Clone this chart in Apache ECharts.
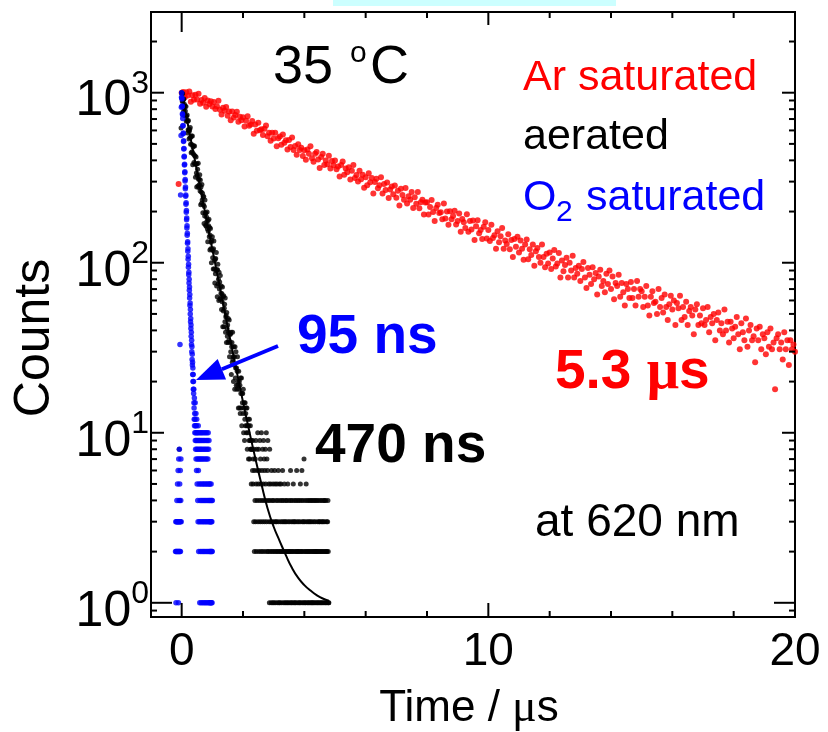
<!DOCTYPE html>
<html>
<head>
<meta charset="utf-8">
<script src="https://cdn.jsdelivr.net/npm/echarts@6/dist/echarts.min.js"></script>
<style>
html,body{margin:0;padding:0;background:#fff;}
#chart{width:828px;height:732px;}
</style>
</head>
<body>
<div id="chart"></div>
<script>
// ---------------- data ----------------
const xTickLabels = [0, 10, 20];
const xMinorTicks = [2, 4, 6, 8, 12, 14, 16, 18];
const yTickLabels = [1, 10, 100, 1000];
const yMinorTicks = [0.9, 2, 3, 4, 5, 6, 7, 8, 9, 20, 30, 40, 50, 60, 70, 80, 90,
  200, 300, 400, 500, 600, 700, 800, 900, 2000];

// Ar saturated: sampling grid start / step (us) and counts
const arStart = -0.1, arStep = 0.05;
const arCounts = [290, null,
  1000, 1008, 939, 1006, 963, 1017, 885, 965, 909, 972, 912, 985, 862, 906, 873, 931, 826, 901, 857, 891,
  830, 882, 803, 833, 896, 795, 744, 816, 783, 823, 733, 774, 688, 775, 714, 739, 772, 675, 722, 689,
  717, 632, 684, 728, 640, 651, 682, 574, 650, 598, 666, 602, 609, 564, 613, 642, 555, 581, 521, 582,
  537, 581, 485, 540, 553, 495, 567, 508, 525, 464, 527, 480, 545, 461, 486, 432, 497, 460, 474, 424,
  458, 403, 464, 437, 484, 412, 393, 437, 448, 405, 361, 418, 438, 376, 399, 379, 426, 358, 397, 374,
  399, 355, 368, 321, 376, 394, 329, 358, 341, 365, 309, 348, 376, 315, 328, 300, 348, 310, 329, 276,
  318, 286, 336, 297, 315, 255, 298, 312, 274, 286, 318, 255, 290, 268, 296, 240, 270, 281, 253, 285,
  241, 265, 217, 272, 250, 235, 275, 223, 246, 235, 261, 210, 243, 222, 261, 209, 227, 235, 192, 226,
  227, 192, 213, 234, 199, 176, 210, 219, 196, 198, 180, 223, 182, 200, 167, 201, 180, 188, 202, 168,
  176, 195, 152, 181, 173, 160, 193, 152, 176, 157, 177, 136, 164, 178, 149, 156, 138, 163, 173, 139,
  156, 134, 167, 140, 145, 121, 153, 132, 143, 160, 121, 135, 129, 147, 120, 136, 108, 138, 124, 142,
  115, 135, 121, 104, 128, 137, 105, 120, 111, 128, 96, 117, 122, 108, 100, 128, 108, 94, 113, 99,
  115, 92, 106, 119, 95, 99, 114, 82, 103, 89, 97, 107, 82, 100, 90, 110, 82, 93, 86, 96,
  78, 92, 101, 82, 71, 93, 85, 75, 94, 80, 87, 65, 83, 91, 73, 78, 67, 86, 75, 90,
  70, 83, 61, 76, 73, 85, 63, 76, 67, 56, 75, 70, 62, 77, 62, 70, 56, 78, 63, 70,
  68, 55, 63, 73, 56, 49, 63, 68, 58, 59, 50, 70, 55, 62, 51, 65, 55, 46, 57, 64,
  53, 60, 43, 58, 54, 64, 46, 55, 48, 59, 43, 52, 55, 49, 38, 53, 57, 43, 49, 44,
  54, 43, 46, 55, 39, 48, 44, 50, 35, 46, 51, 40, 44, 38, 53, 40, 45, 34, 45, 41,
  36, 42, 48, 38, 31, 44, 39, 35, 47, 32, 40, 43, 35, 37, 26, 41, 35, 42, 31, 38,
  36, 29, 39, 32, 41, 31, 34, 18, 36, 38, 31, 34, 27, 39, 31, 35, 25, 35, 31, 33,
  30];

// aerated
const airStart = -0.08, airStep = 0.01;
const airCounts = [8, null, 4, null, 3, null, 620, null,
  1000, 994, 889, 987, 896, 915, 774, 919, 808, 856,
  735, 834, 780, 730, 831, 679, 728, 688, 739, 579,
  680, 605, 686, 602, 535, 594, 610, 546, 624, 498,
  547, 443, 556, 496, 450, 556, 377, 480, 438, 487,
  389, 429, 486, 382, 424, 318, 379, 418, 337, 279,
  382, 326, 355, 283, 385, 310, 277, 310, 288, 329,
  264, 307, 219, 279, 261, 224, 288, 234, 256, 197,
  244, 219, 245, 170, 214, 188, 234, 196, 166, 196,
  164, 186, 175, 199, 158, 133, 177, 153, 165, 180,
  142, 161, 119, 145, 159, 121, 132, 100, 135, 120,
  142, 107, 118, 92, 121, 134, 92, 103, 76, 105,
  86, 106, 90, 115, 73, 91, 63, 91, 98, 75,
  80, 60, 88, 70, 77, 61, 84, 62, 66, 73,
  53, 66, 59, 72, 42, 63, 52, 64, 42, 54,
  57, 45, 62, 39, 48, 49, 34, 51, 41, 37,
  43, 34, 47, 39, 35, 46, 28, 38, 34, 38,
  30, 39, 22, 32, 34, 26, 39, 27, 28, 20,
  32, 25, 28, 18, 32, 21, 24, 30, 19, 24,
  18, 23, 28, 19, 20, 14, 23, 18, 20, 14,
  19, 13, 21, 17, 14, 21, 11, 17, 15, 17,
  13, 18, 10, 14, 15, 9, 12, 15, 11, 13,
  14, 10, 11, 14, 8, 11, 10, 12, 7, 11,
  9, 12, 7, 9, 11, 8, 8, 5, 9, 8,
  8, 6, 9, 5, 7, 3, 8, 2, 6, 4,
  7, 3, 9, 5, 2, 8, 4, 6, 10, 3,
  5, 8, 2, 6, 4, 9, 3, 7, 5, 2,
  10, 4, 6, 3, 8, 2, 5, 9, 4, 7,
  3, 6, 2, 8, 5, 4, 10, 3, 7, 2,
  6, 9, 4, 2, 5, 3, 1, 8, 4, 2,
  5, 3, 1, 6, 2, 4, 3, 1, 5, 2,
  4, 1, 3, 6, 2, 5, 1, 3, 4, 2,
  3, 5, 1, 2, 4, 6, 3, 1, 2, 5,
  1, 4, 2, 3, 5, 1, 2, 4, 3, 6,
  2, 1, 4, 3, 2, 5, 1, 3, 2, 4,
  1, 3, 2, 4, 1, 2, 5, 3, 1, 2,
  4, 2, 3, 1, 2, 6, 4, 1, 3, 2,
  1, 4, 2, 3, 5, 1, 2, 3, 4, 1,
  3, 2, 1, 4, 2, 6, 3, 1, 2, 4,
  2, 3, 1, 2, 4, 1, 3, 5, 2, 1,
  4, 2, 6, 3, 1, 2, 4, 3, 1, 7,
  2, 3, 1, 4, 2, 1, 5, 3, 2, 4,
  1, 2, 3, 1, 4, 2, 3, 1, 2, 4,
  3, 1, 2, 4, 1, 3, 2, 1, 4, 2,
  1, 3, 4, 2, 1, 2, 3, 4, 1, 2,
  2, 4, 1, 3, 2, 1, 4, 2, 3, 1,
  3, 2, 4, 1, 2, 3, 1, 4, 2, 3,
  1, 2, 3, 4, 1, 2, 4, 3, 1, 2,
  4, 1, 2, 3, 2, 1, 3, 4, 2, 1,
  1];

// aerated fit curve
const fitTimes = [0, 0.2, 0.4, 0.6, 0.8, 1.0, 1.2, 1.4, 1.6, 1.8, 2.0, 2.2, 2.4, 2.6, 2.8,
  3.0, 3.2, 3.4, 3.6, 3.8, 4.0, 4.2, 4.4, 4.6, 4.8];
const fitCounts = [1001, 654, 428, 280, 183, 120, 78.8, 51.8, 34.2, 22.7, 15.2, 10.3, 7.1, 5.0, 3.6,
  2.8, 2.3, 1.9, 1.6, 1.4, 1.27, 1.18, 1.11, 1.06, 1.03];

// O2 saturated
const o2Start = -0.2, o2Step = 0.005;
const o2Counts = [
  2, null, 3, 1, 2, null, 3, null, 2, 4,
  3, null, 2, 5, 3, null, 2, 6, 3, 1,
  2, 7, 3, 4, 2, 8, 3, 5, 2, 33,
  3, 6, 2, 250, 4, 7, 560, 3, 820, 940,
  1000, 932, 917, 836, 829, 751, 742, 706, 638, 641,
  574, 579, 517, 521, 466, 470, 419, 423, 376, 380,
  338, 343, 303, 309, 272, 279, 246, 250, 221, 225,
  198, 203, 179, 183, 160, 165, 145, 149, 130, 133,
  117, 121, 105, 109, 94, 98, 85, 88, 76, 80,
  69, 72, 62, 65, 56, 58, 50, 53, 45, 47,
  41, 43, 37, 39, 33, 35, 30, 32, 27, 29,
  25, 26, 22, 24, 20, 22, 18, 20, 17, 18,
  15,
  14, 12, 16, 11, 13, 10, 12, 15, 9, 11,
  8, 10, 13, 7, 9, 11, 6, 12, 8, 10,
  5, 9, 7, 10, 4, 8, 3, 11, 6, 9,
  2, 7, 10, 5, 8, 3, 9, 1, 7, 4,
  10, 2, 8, 5, 9, 3, 7, 1, 10, 4,
  8, 2, 9, 5, 7, 3, 10, 1, 4, 8,
  2, 9, 5, 7, 3, 10, 1, 4, 8, 2,
  9, 5, 7, 3, 10, 1, 4, 8, 2, 9,
  5, 7, 3, 10, 1, 4, 8, 2, 9, 5,
  7, 3, 10, 1, 4, 8, 2, 9, 5, 3,
  1, 4, 2, 5, 3, 1, 2, 4, 3, 1,
  2, 5, 3, 1, 4, 2, 3, 1, 2, 4];

// ---------------- layout / style ----------------
const FONT = '"Liberation Sans", Arial, Helvetica, sans-serif';
const SERIF = '"Liberation Serif", "Times New Roman", serif';
const X_MIN = -1, X_MAX = 20, Y_MIN = 0.825, Y_MAX = 2983;
const RED = '#ff0000', BLUE = '#0000ff', BLACK = '#000000';

function toPairs(start, step, counts) {
  const out = [];
  counts.forEach((c, i) => {
    if (c === null) return;
    out.push([Math.round((start + i * step) * 100000) / 100000, c]);
  });
  return out;
}
const arData = toPairs(arStart, arStep, arCounts);
const airData = toPairs(airStart, airStep, airCounts);
const o2Data = toPairs(o2Start, o2Step, o2Counts);
const fitData = fitTimes.map((t, i) => [t, fitCounts[i]]);

const tickDefs = [];
xTickLabels.forEach(v => tickDefs.push({ axis: 'x', v, major: true }));
xMinorTicks.forEach(v => tickDefs.push({ axis: 'x', v, major: false }));
yTickLabels.forEach(v => tickDefs.push({ axis: 'y', v, major: true }));
yMinorTicks.forEach(v => tickDefs.push({ axis: 'y', v, major: false }));

function tickLine(x1, y1, x2, y2) {
  return { type: 'line', shape: { x1, y1, x2, y2 }, style: { stroke: BLACK, lineWidth: 2 } };
}
function renderTick(params, api) {
  const t = tickDefs[params.dataIndex];
  const minor = 6;
  if (t.axis === 'x') {
    const b = api.coord([t.v, Y_MIN]);
    const tp = api.coord([t.v, Y_MAX]);
    const lb = t.major ? 14 : minor;
    const lt = t.major ? (t.v === 0 ? 20 : 13) : minor;
    return { type: 'group', children: [tickLine(b[0], b[1], b[0], b[1] - lb), tickLine(tp[0], tp[1], tp[0], tp[1] + lt)] };
  } else {
    const l = api.coord([X_MIN, t.v]);
    const r = api.coord([X_MAX, t.v]);
    const len = t.major ? (t.v === 1 ? 21 : 13) : minor;
    return { type: 'group', children: [tickLine(l[0], l[1], l[0] + len, l[1]), tickLine(r[0], r[1], r[0] - len, r[1])] };
  }
}

function txt(str, x, y, size, color, extra) {
  extra = extra || {};
  return {
    type: 'text', x: x, y: y, rotation: extra.rotation || 0, z: 100,
    style: {
      text: str, fontSize: size, fontFamily: extra.family || FONT,
      fontWeight: extra.bold ? 'bold' : 'normal', fill: color,
      align: extra.align || 'left', verticalAlign: 'middle',
      textAlign: extra.align || 'left', textVerticalAlign: 'middle',
      rich: extra.rich
    }
  };
}

// arrow (annotation, pixel space)
const arrowTail = [278, 346], arrowTip = [196, 380];
function arrowElems() {
  const dx = arrowTip[0] - arrowTail[0], dy = arrowTip[1] - arrowTail[1];
  const L = Math.sqrt(dx * dx + dy * dy);
  const ux = dx / L, uy = dy / L;
  const headLen = 28, headHalf = 11;
  const bx = arrowTip[0] - ux * headLen, by = arrowTip[1] - uy * headLen;
  const nx = -uy, ny = ux;
  return [
    { type: 'line', z: 90, shape: { x1: arrowTail[0], y1: arrowTail[1], x2: bx, y2: by }, style: { stroke: BLUE, lineWidth: 4 } },
    { type: 'polygon', z: 90, shape: { points: [arrowTip, [bx + nx * headHalf, by + ny * headHalf], [bx - nx * headHalf, by - ny * headHalf]] }, style: { fill: BLUE } }
  ];
}

const chart = echarts.init(document.getElementById('chart'), null, { renderer: 'canvas' });
const option = {
  animation: false,
  backgroundColor: '#ffffff',
  grid: {
    left: 151, top: 12, width: 644, height: 605,
    show: true, borderColor: BLACK, borderWidth: 2, backgroundColor: 'transparent',
    containLabel: false, outerBoundsMode: 'none'
  },
  xAxis: {
    type: 'value', min: X_MIN, max: X_MAX, interval: 1,
    axisLine: { show: false }, axisTick: { show: false }, splitLine: { show: false },
    axisLabel: {
      interval: 0, margin: 12, fontSize: 46, fontFamily: FONT, color: BLACK,
      showMinLabel: true, showMaxLabel: true,
      formatter: function (v) {
        const r = Math.round(v * 1000) / 1000;
        return xTickLabels.indexOf(r) >= 0 ? String(r) : '';
      }
    }
  },
  yAxis: {
    type: 'log', logBase: 10, min: Y_MIN, max: Y_MAX,
    axisLine: { show: false }, axisTick: { show: false }, splitLine: { show: false },
    axisLabel: {
      margin: 2, color: BLACK,
      formatter: function (v) {
        const e = Math.log10(v);
        const r = Math.round(e);
        if (Math.abs(e - r) > 1e-6) return '';
        if (yTickLabels.indexOf(Math.pow(10, r)) < 0) return '';
        return '{b|10}{s|' + r + '}';
      },
      rich: {
        b: { fontSize: 50, fontFamily: FONT, color: BLACK, lineHeight: 50, padding: [18, 0, 0, 0] },
        s: { fontSize: 32, fontFamily: FONT, color: BLACK, lineHeight: 32, padding: [0, 0, 18, 0] }
      }
    }
  },
  series: [
    { type: 'scatter', data: arData, symbol: 'circle', symbolSize: 6, itemStyle: { color: RED }, z: 2, silent: true },
    { type: 'scatter', data: airData, symbol: 'circle', symbolSize: 5, itemStyle: { color: BLACK }, z: 3, silent: true },
    { type: 'line', data: fitData, smooth: true, showSymbol: false, symbol: 'none', lineStyle: { color: BLACK, width: 2 }, z: 4, silent: true },
    { type: 'scatter', data: o2Data, symbol: 'circle', symbolSize: 5.5, itemStyle: { color: BLUE }, z: 5, silent: true },
    { type: 'custom', renderItem: renderTick, data: tickDefs.map(t => t.axis === 'x' ? [t.v, 1] : [0, t.v]), z: 6, silent: true, clip: false }
  ],
  graphic: [
    { type: 'rect', z: 100, shape: { x: 333, y: 0, width: 283, height: 6 }, style: { fill: '#ccffff' } },
    txt('35', 273, 68, 54, BLACK),
    txt('o', 350, 54, 30, BLACK),
    txt('C', 370, 68, 54, BLACK),
    txt('Ar saturated', 523, 77.7, 43, RED),
    txt('aerated', 523, 136.7, 43, BLACK),
    txt('O', 523, 198.3, 43, BLUE),
    txt('2', 556, 213, 30, BLUE),
    txt('saturated', 586, 198.3, 43, BLUE),
    txt('95 ns', 297, 338, 55, BLUE, { bold: true }),
    txt('470 ns', 315, 447, 55, BLACK, { bold: true }),
    txt('{a|5.3 }{m|μ}{a|s}', 555, 373, 55, RED, {
      bold: true,
      rich: {
        a: { fontSize: 55, fontFamily: FONT, fontWeight: 'bold', fill: RED, color: RED },
        m: { fontSize: 57, fontFamily: SERIF, fontWeight: 'bold', fill: RED, color: RED }
      }
    }),
    txt('at 620 nm', 535, 523, 46, BLACK),
    txt('{a|Time / }{m|μ}{a|s}', 469, 709, 44, BLACK, {
      align: 'center',
      rich: {
        a: { fontSize: 44, fontFamily: FONT, fill: BLACK, color: BLACK },
        m: { fontSize: 46, fontFamily: SERIF, fill: BLACK, color: BLACK }
      }
    }),
    txt('Counts', 35, 338, 50, BLACK, { align: 'center', rotation: Math.PI / 2 })
  ].concat(arrowElems())
};
chart.setOption(option);
</script>
</body>
</html>
